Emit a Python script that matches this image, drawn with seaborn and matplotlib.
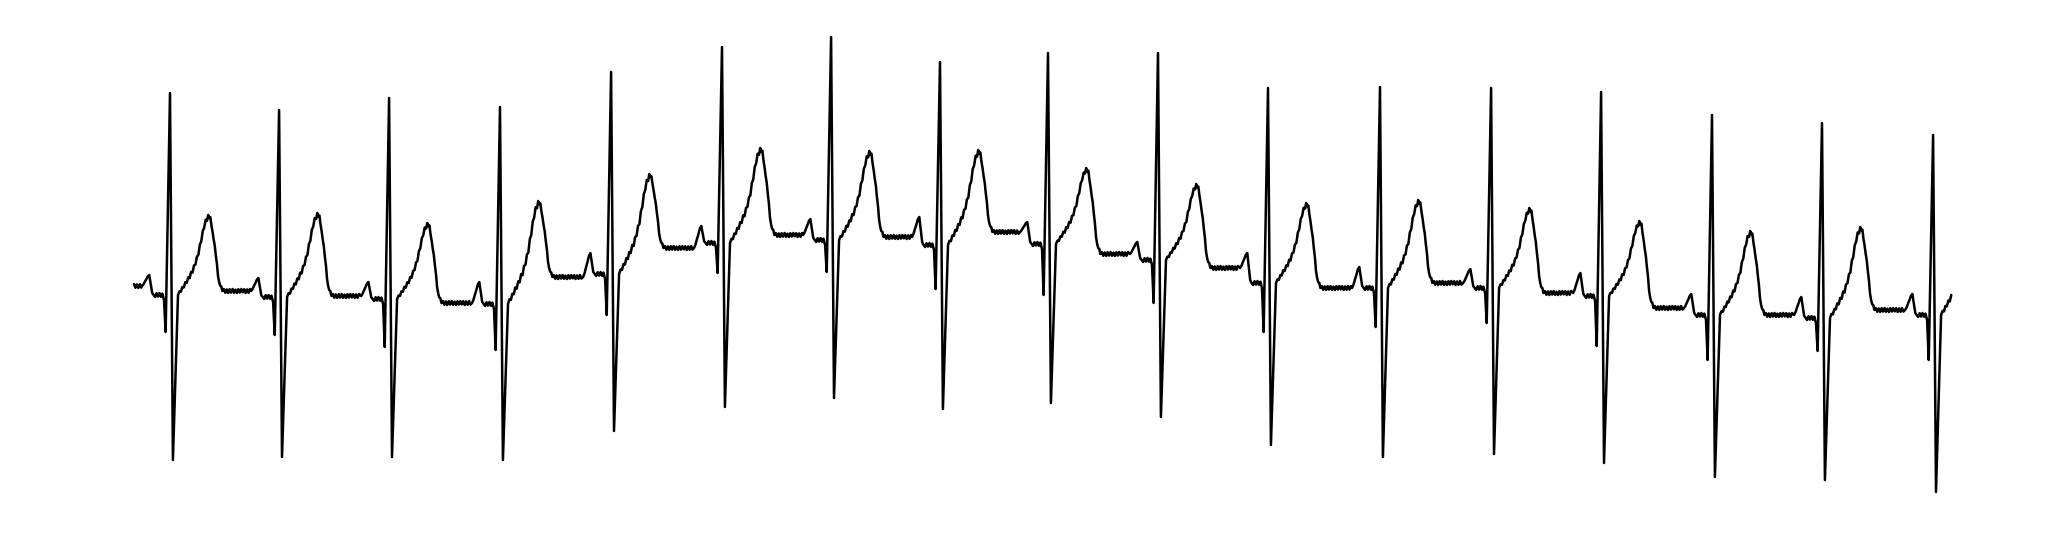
import numpy as np
import pandas as pd
import matplotlib
matplotlib.use("Agg")
import matplotlib.pyplot as plt
import seaborn as sns

# ---------------- data (time in s, amplitude in mV) ----------------
R_TIMES = [0.198, 0.798, 1.403, 2.013, 2.624, 3.234, 3.834, 4.433, 5.027,
           5.632, 6.237, 6.853, 7.464, 8.069, 8.679, 9.284, 9.895]
R_AMP = [0.985, 0.900, 0.960, 0.915, 1.090, 1.215, 1.265, 1.140, 1.185,
         1.185, 1.010, 1.015, 1.010, 0.990, 0.875, 0.835, 0.775]
Q_AMP = [-0.210, -0.225, -0.285, -0.300, -0.125, 0.085, 0.090, 0.005, -0.025,
         -0.065, -0.210, -0.185, -0.165, -0.280, -0.350, -0.305, -0.350]
S_AMP = [-0.850, -0.835, -0.835, -0.850, -0.705, -0.585, -0.540, -0.595, -0.565,
         -0.635, -0.775, -0.835, -0.820, -0.865, -0.935, -0.950, -1.010]
T_AMP = [0.375, 0.385, 0.335, 0.445, 0.580, 0.710, 0.695, 0.700, 0.610,
         0.530, 0.435, 0.450, 0.410, 0.345, 0.295, 0.315, 0.330]
TP_LEVEL = [-0.005, -0.030, -0.065, 0.065, 0.210, 0.275, 0.265, 0.290, 0.180,
            0.110, 0.010, 0.035, -0.015, -0.090, -0.125, -0.100, -0.110]
P_AMP = [0.075, 0.060, 0.040, 0.040, 0.185, 0.320, 0.355, 0.365, 0.340,
         0.240, 0.185, 0.115, 0.105, 0.085, -0.020, -0.035, -0.020]
PR_LEVEL = [-0.025, -0.035, -0.045, -0.070, 0.080, 0.235, 0.250, 0.225, 0.230,
            0.150, 0.035, 0.010, 0.010, -0.030, -0.125, -0.140, -0.125]
START_LEVEL = 0.020
END_TIME = 10.0

# beat shape read from one clean beat (offsets in ms from the R peak)
Q_OFF, S_OFF, J_OFF, PRE_Q_OFF = -24, 16, 44, -33
PRE_Q_DROP = 0.025
ST_OFFSETS = [52, 60, 68, 76, 84, 92, 100, 108, 116, 124, 132, 140, 148, 156,
              164, 172, 180, 188, 196, 204, 210]
ST_FRACS = [0.045, 0.04, 0.10, 0.095, 0.16, 0.15, 0.22, 0.21, 0.29, 0.28, 0.37,
            0.38, 0.48, 0.50, 0.63, 0.67, 0.80, 0.84, 0.94, 0.93, 1.00]
TD_OFFSETS = [216, 222, 228, 234, 240, 246, 252, 258, 264, 270, 276, 282, 288]
TD_FRACS = [0.96, 0.97, 0.86, 0.78, 0.68, 0.60, 0.47, 0.36, 0.20, 0.12, 0.07, 0.06, 0.0]
P_UP_OFFSETS = [-154, -146, -138, -130, -122, -114]
P_UP_FRACS = [0.0, 0.15, 0.40, 0.62, 0.88, 1.0]
P_DN_OFFSETS = [-106, -98, -90]
P_DN_FRACS = [0.55, 0.10, 0.0]
PR_OFFSETS = [-82, -74, -66, -58, -50, -42]
STEP_MS = 8
RIPPLE = [0.010, -0.009, 0.008, -0.010, 0.009, -0.008, 0.010, -0.009, 0.007,
          -0.010, 0.009, -0.008, 0.010, -0.007, 0.009, -0.010, 0.008, -0.009,
          0.010, -0.008, 0.009, -0.010, 0.008, -0.009]

# ---------------- assemble the trace ----------------
ts, vs = [], []


def add(t, v):
    if t <= END_TIME + 1e-9 and (not ts or t > ts[-1] + 1e-9):
        ts.append(round(t, 5))
        vs.append(v)


prev_end = 0.0
for i, r in enumerate(R_TIMES):
    a_prev = START_LEVEL if i == 0 else TP_LEVEL[i - 1]
    # isoelectric T-P stretch
    p_start = r + P_UP_OFFSETS[0] / 1000
    t, k = prev_end, 0
    while t < p_start - 0.004:
        add(t, a_prev + RIPPLE[k % len(RIPPLE)])
        t += STEP_MS / 1000
        k += 1
    # P wave
    for off, f in zip(P_UP_OFFSETS, P_UP_FRACS):
        add(r + off / 1000, a_prev + (P_AMP[i] - a_prev) * f)
    for off, f in zip(P_DN_OFFSETS, P_DN_FRACS):
        add(r + off / 1000, PR_LEVEL[i] + (P_AMP[i] - PR_LEVEL[i]) * f)
    for k, off in enumerate(PR_OFFSETS):
        add(r + off / 1000, PR_LEVEL[i] + RIPPLE[(k + 3) % len(RIPPLE)])
    add(r + PRE_Q_OFF / 1000, PR_LEVEL[i] - PRE_Q_DROP)
    # QRS
    add(r + Q_OFF / 1000, Q_AMP[i])
    add(r, R_AMP[i])
    add(r + S_OFF / 1000, S_AMP[i])
    j = PR_LEVEL[i]
    add(r + J_OFF / 1000, j)
    # ST segment and T wave
    for off, f in zip(ST_OFFSETS, ST_FRACS):
        add(r + off / 1000, j + (T_AMP[i] - j) * f)
    for off, f in zip(TD_OFFSETS, TD_FRACS):
        add(r + off / 1000, TP_LEVEL[i] + (T_AMP[i] - TP_LEVEL[i]) * f)
    prev_end = r + (TD_OFFSETS[-1] + STEP_MS) / 1000

df = pd.DataFrame({"time_s": ts, "mV": vs})

# ---------------- draw ----------------
sns.set_style("white")
fig = plt.figure(figsize=(20.46, 5.38), dpi=100)
ax = fig.add_axes([0, 0, 1, 1])
sns.lineplot(data=df, x="time_s", y="mV", color="black", linewidth=1.8,
             estimator=None, sort=False, ax=ax)
ax.set_xlim(-0.737, 10.516)
ax.set_ylim(-1.24, 1.45)
ax.axis("off")
fig.savefig("out.png", dpi=100, facecolor="white")
